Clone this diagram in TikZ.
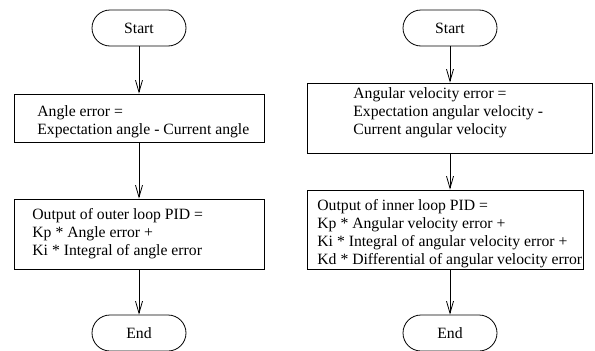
\documentclass[tikz,border=0pt]{standalone}
\usepackage{fontspec}
\setmainfont{Liberation Serif}
\usetikzlibrary{arrows.meta}
\begin{document}
\begin{tikzpicture}[x=1pt,y=-1pt,
  line width=0.8pt,
  terminal/.style={draw, rounded corners=18pt, minimum width=94pt, minimum height=36pt, inner sep=0pt,
    font=\fontsize{15.7}{18}\selectfont},
  procbox/.style={draw, inner sep=0pt},
  boxtext/.style={anchor=west, inner sep=0pt, align=left, font=\fontsize{15.7}{18}\selectfont},
  flow/.style={-{Straight Barb[length=12pt,width=7pt,line width=0.8pt]}}
]
\useasboundingbox (0,0) rectangle (595,351);

% outer loop (angle)
\node[terminal] (s1) at (139,28) {Start};
\node[procbox, minimum width=250pt, minimum height=48pt] (b1) at (139,118) {};
\node[boxtext] (b1t) at (37,121.5) {Angle error =\\Expectation angle - Current angle};
\node[procbox, minimum width=250pt, minimum height=70pt] (b2) at (139,234) {};
\node[boxtext] (b2t) at (32,234) {Output of outer loop PID =\\Kp * Angle error +\\Ki * Integral of angle error};
\node[terminal] (e1) at (139,333) {End};

\draw[flow] (s1.south) -- (s1.south |- b1.north);
\draw[flow] (b1.south) -- (b1.south |- b2.north);
\draw[flow] (b2.south) -- (b2.south |- e1.north);

% inner loop (angular velocity)
\node[terminal] (s2) at (450,28) {Start};
\node[procbox, minimum width=285pt, minimum height=70pt] (c1) at (449.5,118) {};
\node[boxtext] (c1t) at (353,113) {Angular velocity error =\\Expectation angular velocity -\\Current angular velocity};
\node[procbox, minimum width=276pt, minimum height=79pt] (c2) at (445,229.5) {};
\node[boxtext] (c2t) at (317,234) {Output of inner loop PID =\\Kp * Angular velocity error +\\Ki * Integral of angular velocity error +\\Kd * Differential of angular velocity error};
\node[terminal] (e2) at (450,333) {End};

\draw[flow] (s2.south) -- (s2.south |- c1.north);
\draw[flow] (s2.south |- c1.south) -- (s2.south |- c2.north);
\draw[flow] (s2.south |- c2.south) -- (s2.south |- e2.north);
\end{tikzpicture}
\end{document}
